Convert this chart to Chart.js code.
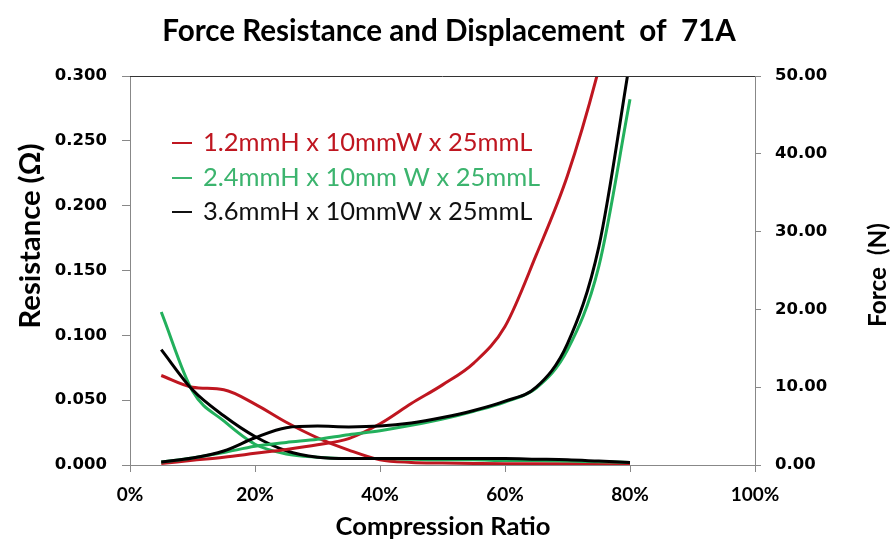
<!DOCTYPE html>
<html>
<head>
<meta charset="utf-8">
<script src="https://cdn.jsdelivr.net/npm/chart.js@4.4.1/dist/chart.umd.min.js"></script>
<style>
    html, body { margin: 0; padding: 0; background: #fff; }
    #wrap { width: 895px; height: 542px; position: relative; }
</style>
</head>
<body>
<div id="wrap"><canvas id="forceChart" width="895" height="542"></canvas></div>
<script>
// compression ratio (%) where each curve was sampled
const ratio = [5, 10, 15, 20, 25, 30, 35, 40, 45, 50, 55, 60, 65, 70, 75, 80];

// resistance (ohm), left axis
const resRed   = [0.069, 0.060, 0.058, 0.047, 0.033, 0.021, 0.0115, 0.004, 0.002, 0.0015, 0.0012, 0.001, 0.001, 0.001, 0.001, 0.001];
const resGreen = [0.118, 0.057, 0.034, 0.016, 0.0085, 0.006, 0.005, 0.005, 0.0045, 0.004, 0.004, 0.0035, 0.0035, 0.003, 0.0025, 0.002];
const resBlack = [0.089, 0.058, 0.038, 0.022, 0.011, 0.006, 0.005, 0.005, 0.005, 0.005, 0.005, 0.005, 0.0045, 0.004, 0.003, 0.002];

// force (N), right axis
const forceRed   = [0.2, 0.6, 1.0, 1.5, 2.0, 2.6, 3.4, 5.3, 7.9, 10.3, 13.1, 17.8, 27.0, 37.2, 50.9, 68.0];
const forceGreen = [0.4, 0.9, 1.6, 2.4, 2.9, 3.3, 3.9, 4.4, 5.1, 5.9, 6.9, 8.1, 9.9, 14.8, 25.5, 47.0];
const forceBlack = [0.4, 0.9, 1.8, 3.5, 4.8, 5.0, 4.9, 5.0, 5.4, 6.1, 7.0, 8.2, 10.0, 15.6, 28.0, 52.0];

const legendLabels = ["1.2mmH x 10mmW x 25mmL", "2.4mmH x 10mm W x 25mmL", "3.6mmH x 10mmW x 25mmL"];
const xTicks = [0, 20, 40, 60, 80, 100];

const RED = "#bf1620";
const GREEN = "#22b05c";
const BLACK = "#000000";

const pts = arr => ratio.map((x, i) => ({ x: x, y: arr[i] }));

function line(data, color, axis, order) {
    return {
        data: pts(data),
        yAxisID: axis,
        borderColor: color,
        backgroundColor: color,
        borderWidth: 3,
        pointRadius: 0,
        cubicInterpolationMode: "monotone",
        fill: false,
        order: order
    };
}

// pick a font size so the text spans the given width
function fitFont(ctx, text, weight, width) {
    ctx.font = weight + " 20px Lato";
    const size = 20 * width / ctx.measureText(text).width;
    ctx.font = weight + " " + size.toFixed(1) + "px Lato";
}

// titles, axis titles and the in-plot legend
const textPlugin = {
    id: "texts",
    afterDraw(chart) {
        const ctx = chart.ctx;
        const area = chart.chartArea;
        ctx.save();

        // frame top line
        ctx.strokeStyle = "#333";
        ctx.lineWidth = 1;
        ctx.beginPath();
        ctx.moveTo(area.left, area.top + 0.5);
        ctx.lineTo(area.right, area.top + 0.5);
        ctx.stroke();

        ctx.fillStyle = "#000";
        ctx.textAlign = "center";
        ctx.textBaseline = "middle";

        const title = "Force Resistance and Displacement  of  71A";
        fitFont(ctx, title, "bold", 573);
        ctx.fillText(title, 449, 31);

        fitFont(ctx, "Compression Ratio", "bold", 215);
        ctx.fillText("Compression Ratio", 443, 527);

        ctx.save();
        ctx.translate(31, 236);
        ctx.rotate(-Math.PI / 2);
        fitFont(ctx, "Resistance (\u03A9)", "bold", 185);
        ctx.fillText("Resistance (\u03A9)", 0, 0);
        ctx.restore();

        ctx.save();
        ctx.translate(878, 275);
        ctx.rotate(-Math.PI / 2);
        fitFont(ctx, "Force  (N)", "bold", 104);
        ctx.fillText("Force  (N)", 0, 0);
        ctx.restore();

        // legend
        const colors = [RED, "#3cb46e", "#111"];
        const rowY = [143, 178, 212];
        ctx.textAlign = "left";
        fitFont(ctx, legendLabels[0], "normal", 330);
        legendLabels.forEach((label, i) => {
            ctx.strokeStyle = colors[i];
            ctx.lineWidth = 2;
            ctx.beginPath();
            ctx.moveTo(172, rowY[i]);
            ctx.lineTo(192, rowY[i]);
            ctx.stroke();
            ctx.fillStyle = colors[i];
            ctx.fillText(label, 203, rowY[i]);
        });
        ctx.restore();
    }
};

const tickFont = { family: "DejaVu Sans", size: 16.5, weight: "bold" };

new Chart(document.getElementById("forceChart"), {
    type: "line",
    data: {
        datasets: [
            line(resRed, RED, "yRes", 5),
            line(resGreen, GREEN, "yRes", 4),
            line(resBlack, BLACK, "yRes", 3),
            line(forceRed, RED, "yForce", 2),
            line(forceGreen, GREEN, "yForce", 1),
            line(forceBlack, BLACK, "yForce", 0)
        ]
    },
    options: {
        responsive: false,
        animation: false,
        layout: { padding: { top: 76, left: 0, right: 0, bottom: 0 } },
        plugins: {
            legend: { display: false },
            tooltip: { enabled: false }
        },
        scales: {
            x: {
                type: "linear",
                min: 0,
                max: 100,
                afterBuildTicks: scale => { scale.ticks = xTicks.map(v => ({ value: v })); },
                afterFit: scale => { scale.height = 77; },
                grid: { drawOnChartArea: false, tickLength: 7, color: "#888" },
                border: { color: "#888" },
                ticks: {
                    padding: 11,
                    color: "#000",
                    font: { family: "Lato", size: 19, weight: "bold" },
                    callback: v => v + "%"
                }
            },
            yRes: {
                position: "left",
                min: 0,
                max: 0.3,
                afterFit: scale => { scale.width = 130; },
                grid: { drawOnChartArea: false, tickLength: 8, color: "#888" },
                border: { color: "#888" },
                ticks: {
                    stepSize: 0.05,
                    padding: 15,
                    color: "#000",
                    font: tickFont,
                    callback: v => Number(v).toFixed(3)
                }
            },
            yForce: {
                position: "right",
                min: 0,
                max: 50,
                afterFit: scale => { scale.width = 140; },
                grid: { drawOnChartArea: false, tickLength: 6, color: "#888" },
                border: { color: "#888" },
                ticks: {
                    stepSize: 10,
                    padding: 14,
                    color: "#000",
                    font: tickFont,
                    callback: v => Number(v).toFixed(2)
                }
            }
        }
    },
    plugins: [textPlugin]
});
</script>
</body>
</html>
